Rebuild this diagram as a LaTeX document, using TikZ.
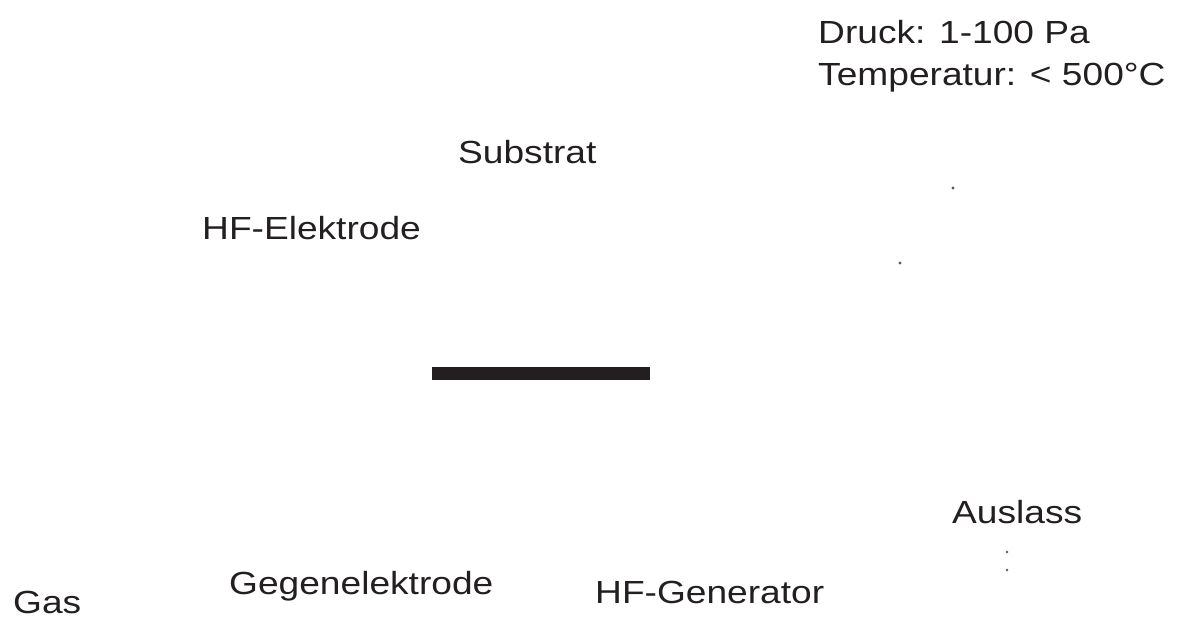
\documentclass[tikz,border=0pt]{standalone}
\usepackage{fontspec}
\setmainfont{Liberation Sans}[FakeStretch=1.16]
\definecolor{ink}{HTML}{231F20}
\begin{document}
\begin{tikzpicture}[x=1pt,y=-1pt,
  lbl/.style={anchor=base west,inner sep=0pt,text=ink,font=\fontsize{32}{38}\selectfont},
  speck/.style={fill=ink!75,draw=none}]
\useasboundingbox (0,0) rectangle (1184,619);
\node[lbl] (druck) at (818,43) {Druck: 1-100 Pa};
\node[lbl] (temp) at (818,85) {Temperatur: < 500°C};
\node[lbl] (substrat) at (458,163) {Substrat};
\node[lbl] (hfel) at (202,239) {HF-Elektrode};
\node[lbl] (auslass) at (952,523) {Auslass};
\node[lbl] (gegen) at (229,594) {Gegenelektrode};
\node[lbl] (hfgen) at (595,603) {HF-Generator};
\node[lbl] (gas) at (13,613) {Gas};
\fill[ink] (432,367) rectangle (650,380);
\fill[speck] (953,188) circle (1.6);
\fill[speck] (900,263) circle (1.6);
\fill[speck] (1007,552) circle (1.3);
\fill[speck] (1007,570) circle (1.3);
\end{tikzpicture}
\end{document}
